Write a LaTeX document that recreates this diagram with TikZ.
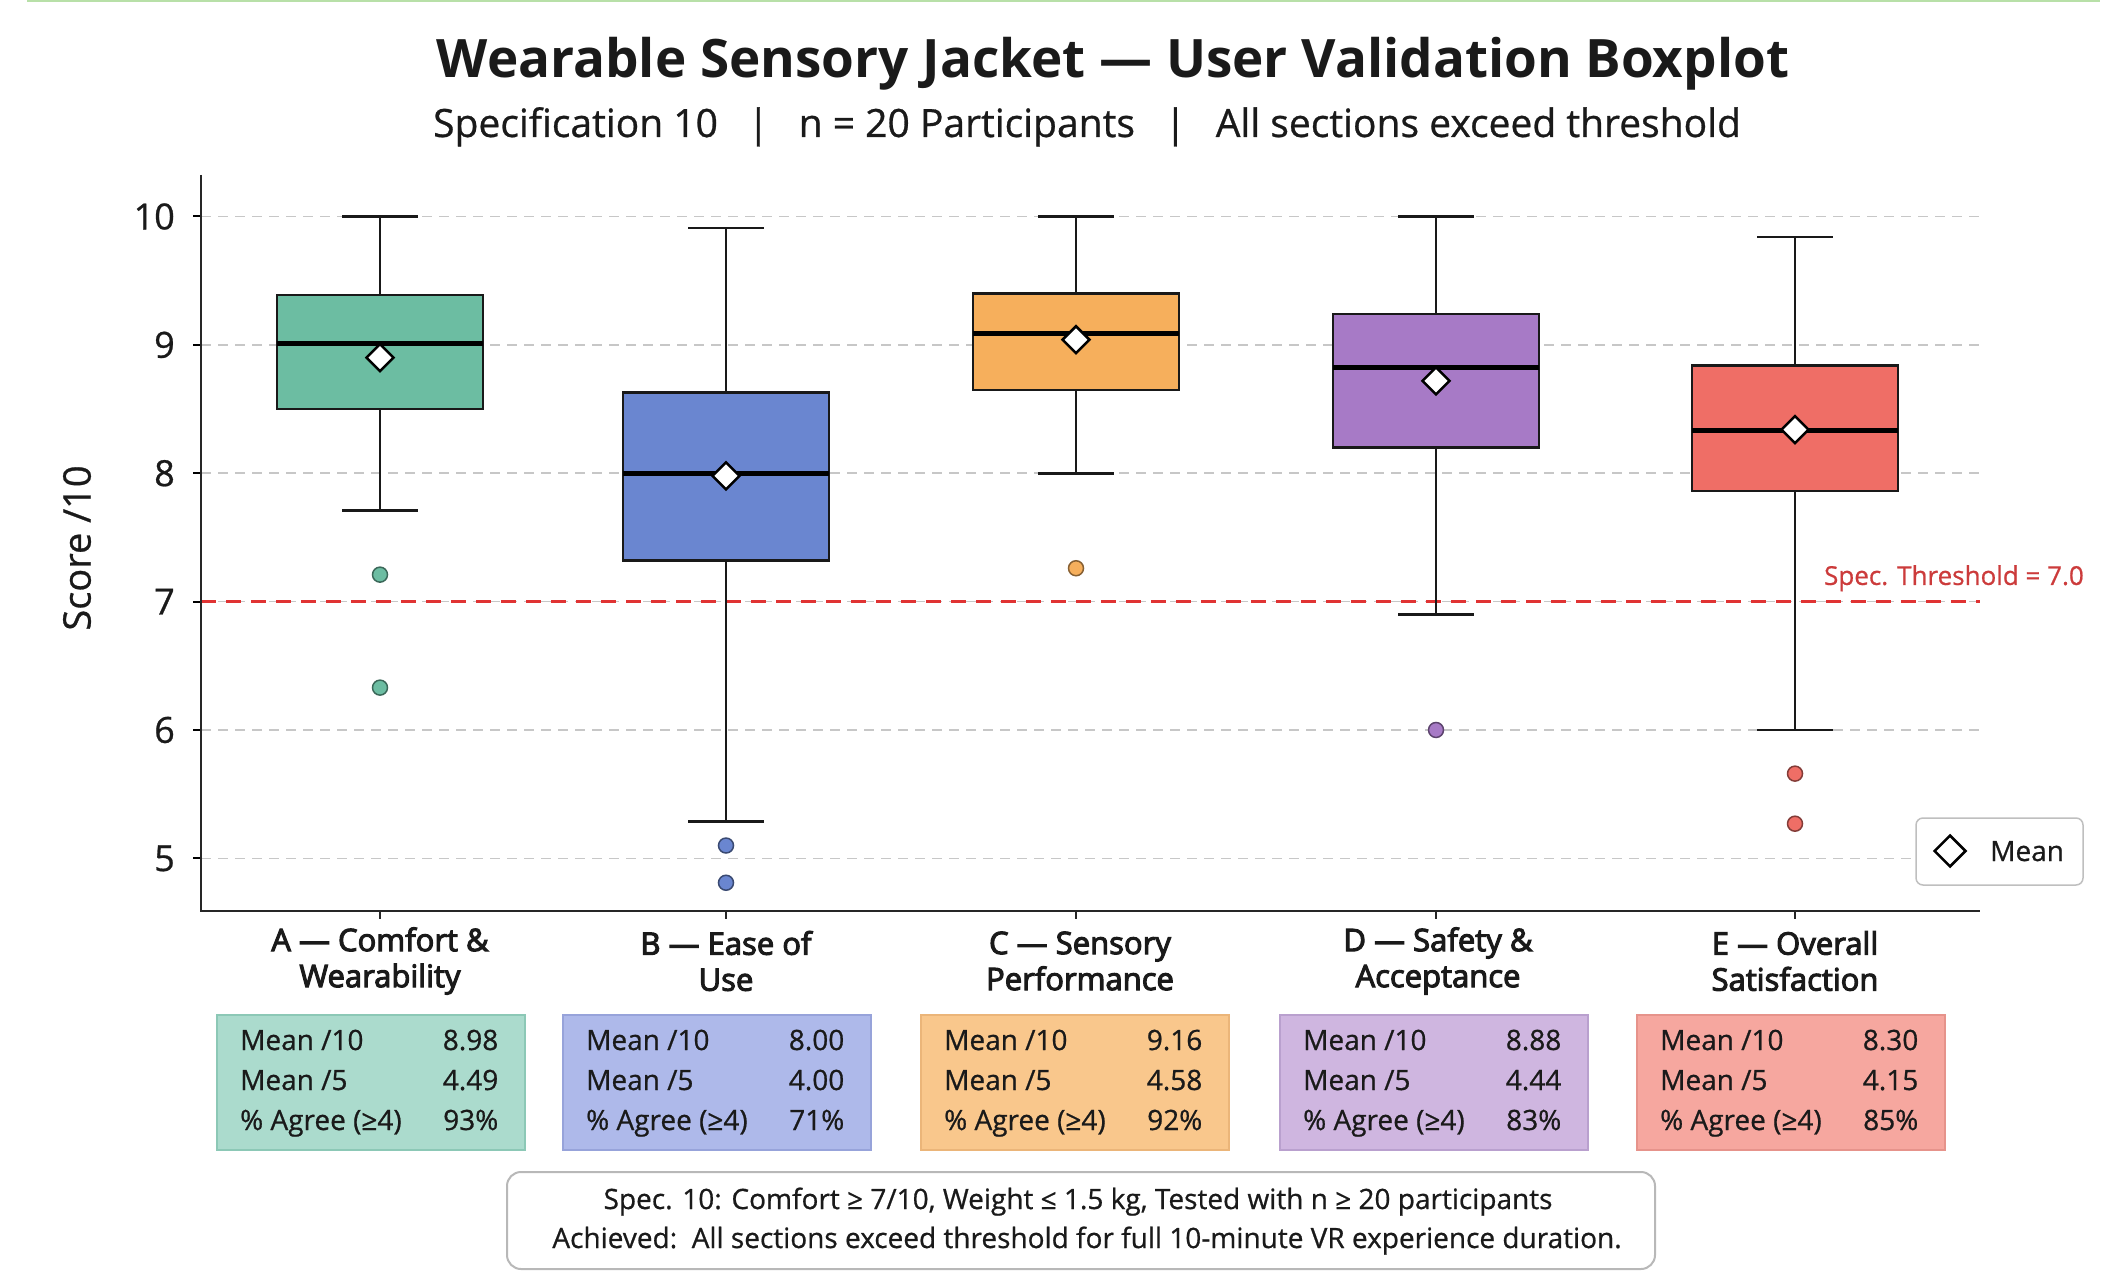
\documentclass[tikz,border=0pt]{standalone}
\usepackage{fontspec}
\setmainfont{Open Sans}
\newfontfamily\medfont[FakeBold=3.4]{Open Sans}
\newfontfamily\bodyfont[FakeBold=0.7]{Open Sans}
\usetikzlibrary{shapes.geometric}
\definecolor{cA}{HTML}{6CBDA2}\definecolor{tA}{HTML}{ABDBCD}\definecolor{bA}{HTML}{8CC8B6}
\definecolor{cB}{HTML}{6A86D0}\definecolor{tB}{HTML}{AEB9EA}\definecolor{bB}{HTML}{97A3DA}
\definecolor{cC}{HTML}{F6AF5C}\definecolor{tC}{HTML}{F9C78C}\definecolor{bC}{HTML}{EBB579}
\definecolor{cD}{HTML}{A77AC6}\definecolor{tD}{HTML}{CFB6E0}\definecolor{bD}{HTML}{B9A0CE}
\definecolor{cE}{HTML}{EF6E66}\definecolor{tE}{HTML}{F6A79F}\definecolor{bE}{HTML}{E6938B}
\definecolor{thrred}{HTML}{E03333}
\definecolor{thrtxt}{HTML}{CC3B3B}
\definecolor{txt}{HTML}{1A1A1A}
\definecolor{topgreen}{HTML}{B8E0A8}
\newcommand\bxplot[7]{% x, colour, wtop, q3, med, q1, wbot
  \draw[whisk] (#1,#3) -- (#1,#4);
  \draw[whisk] (#1,#6) -- (#1,#7);
  \draw[whisk] (#1-38,#3) -- (#1+38,#3);
  \draw[whisk] (#1-38,#7) -- (#1+38,#7);
  \draw[boxst,fill=#2] (#1-103,#6) rectangle (#1+103,#4);
  \draw[medst] (#1-103,#5) -- (#1+103,#5);
}
\newcommand\stattable[6]{% name, x-left, fill, border, v1, v2
  \node[tablebox,fill=#3,draw=#4,anchor=north west] (#1) at (#2,1014) {};
  \node[rowlab,anchor=base west] (#1l1) at ([xshift=24pt]#1.west |- 0,1050) {Mean /10};
  \node[rowlab,anchor=base west] (#1l2) at ([xshift=24pt]#1.west |- 0,1090) {Mean /5};
  \node[rowlab,anchor=base west] (#1l3) at ([xshift=24pt]#1.west |- 0,1130) {\% Agree (≥4)};
  \node[rowlab,anchor=base east] (#1v1) at ([xshift=-27pt]#1.east |- 0,1050) {#5};
  \node[rowlab,anchor=base east] (#1v2) at ([xshift=-27pt]#1.east |- 0,1090) {#6};
}
\begin{document}
\begin{tikzpicture}[x=1pt,y=-1pt,
  whisk/.style={line width=2.8pt,draw=black!90},
  boxst/.style={line width=2.5pt,draw=black!90},
  medst/.style={line width=5pt,draw=black},
  meanmk/.style={diamond,aspect=1,draw=black,fill=white,line width=2.5pt,inner sep=0pt,minimum size=28pt},
  outl/.style={circle,inner sep=0pt,minimum size=15pt,line width=1.5pt},
  gridln/.style={draw=black!22,line width=1.5pt,dash pattern=on 10pt off 7pt},
  thr/.style={draw=thrred,line width=3pt,dash pattern=on 15pt off 10pt},
  ticklab/.style={anchor=east,inner sep=0pt,font=\bodyfont\fontsize{36}{40}\selectfont,text=txt},
  catlab/.style={align=center,inner sep=0pt,font=\medfont\fontsize{31}{36}\selectfont,text=txt},
  tablebox/.style={minimum width=308pt,minimum height=135pt,inner sep=0pt,line width=1.5pt},
  rowlab/.style={inner sep=0pt,font=\bodyfont\fontsize{28}{32}\selectfont,text=txt},
  foottxt/.style={inner sep=0pt,anchor=base,font=\bodyfont\fontsize{28}{32}\selectfont,text=txt}
]
\useasboundingbox (0,0) rectangle (2115,1273);
\fill[white] (0,0) rectangle (2115,1273);
\draw[topgreen,line width=2.5pt] (27,1) -- (2100,1);

% titles
\node[anchor=base,inner sep=0pt,font=\bfseries\fontsize{53}{60}\selectfont,text=txt] (title) at (1113,78) {Wearable Sensory Jacket — User Validation Boxplot};
\node[anchor=base,inner sep=0pt,font=\bodyfont\fontsize{39}{44}\selectfont,text=txt] (subtitle) at (1087,137) {Specification 10\enspace\ |\enspace\ n = 20 Participants\enspace\ |\enspace\ All sections exceed threshold};

% plot area in score units
\begin{scope}[x=1pt,y=128.37pt,yshift=-1500.2pt]
  \foreach \s in {5,...,10}{
    \draw[gridln] (201,\s) -- (1980,\s);
    \draw[line width=2pt] (193,\s) -- (201,\s);
    \node[ticklab] (tick\s) at (175,\s) {\s};
  }
  \draw[thr] (201,7) -- (1980,7);
  \node[anchor=base east,inner sep=0pt,font=\bodyfont\fontsize{26}{30}\selectfont,text=thrtxt] (thrlab) at (2084,7.13) {Spec. Threshold = 7.0};

  \bxplot{380}{cA}{10}{9.39}{9.01}{8.50}{7.71}
  \bxplot{726}{cB}{9.91}{8.63}{8.00}{7.32}{5.29}
  \bxplot{1076}{cC}{10}{9.40}{9.09}{8.65}{8.00}
  \bxplot{1436}{cD}{10}{9.24}{8.82}{8.20}{6.90}
  \bxplot{1795}{cE}{9.84}{8.84}{8.33}{7.86}{6.00}

  \node[meanmk] (meanA) at (380,8.90) {};
  \node[meanmk] (meanB) at (726,7.98) {};
  \node[meanmk] (meanC) at (1076,9.04) {};
  \node[meanmk] (meanD) at (1436,8.72) {};
  \node[meanmk] (meanE) at (1795,8.34) {};

  \node[outl,fill=cA,draw=cA!55!black] (oA1) at (380,7.21) {};
  \node[outl,fill=cA,draw=cA!55!black] (oA2) at (380,6.33) {};
  \node[outl,fill=cB,draw=cB!55!black] (oB1) at (726,5.10) {};
  \node[outl,fill=cB,draw=cB!55!black] (oB2) at (726,4.81) {};
  \node[outl,fill=cC,draw=cC!55!black] (oC1) at (1076,7.26) {};
  \node[outl,fill=cD,draw=cD!55!black] (oD1) at (1436,6.00) {};
  \node[outl,fill=cE,draw=cE!55!black] (oE1) at (1795,5.66) {};
  \node[outl,fill=cE,draw=cE!55!black] (oE2) at (1795,5.27) {};
\end{scope}

% axes
\draw[line width=2.5pt,draw=black!85] (201,175) -- (201,911) -- (1980,911);
\foreach \xx in {380,726,1076,1436,1795}{\draw[line width=2pt,draw=black!85] (\xx,911) -- (\xx,919);}
\node[rotate=90,inner sep=0pt,font=\bodyfont\fontsize{38}{42}\selectfont,text=txt] (ylab) at (77,548) {Score /10};

% legend
\node[draw=black!25,line width=1.5pt,rounded corners=7pt,fill=white,minimum width=167pt,minimum height=67pt,inner sep=0pt] (legend) at (1999.5,851.5) {};
\node[meanmk,minimum size=32pt] (legdia) at (1950,851) {};
\node[anchor=base west,inner sep=0pt,font=\bodyfont\fontsize{28}{32}\selectfont,text=txt] (legtxt) at (1990,861) {Mean};

% category labels
\node[catlab] (catA) at (380,961) {A — Comfort \&\\Wearability};
\node[catlab] (catB) at (726,961) {B — Ease of\\Use};
\node[catlab] (catC) at (1080,961) {C — Sensory\\Performance};
\node[catlab] (catD) at (1438,961) {D — Safety \&\\Acceptance};
\node[catlab] (catE) at (1795,961) {E — Overall\\Satisfaction};

% stat tables
\stattable{tabA}{216}{tA}{bA}{8.98}{4.49}
\node[rowlab,anchor=base east] (tabAv3) at ([xshift=-27pt]tabA.east |- 0,1130) {93\%};
\stattable{tabB}{562}{tB}{bB}{8.00}{4.00}
\node[rowlab,anchor=base east] (tabBv3) at ([xshift=-27pt]tabB.east |- 0,1130) {71\%};
\stattable{tabC}{920}{tC}{bC}{9.16}{4.58}
\node[rowlab,anchor=base east] (tabCv3) at ([xshift=-27pt]tabC.east |- 0,1130) {92\%};
\stattable{tabD}{1279}{tD}{bD}{8.88}{4.44}
\node[rowlab,anchor=base east] (tabDv3) at ([xshift=-27pt]tabD.east |- 0,1130) {83\%};
\stattable{tabE}{1636}{tE}{bE}{8.30}{4.15}
\node[rowlab,anchor=base east] (tabEv3) at ([xshift=-27pt]tabE.east |- 0,1130) {85\%};

% footer
\node[draw=black!28,line width=2pt,rounded corners=14pt,minimum width=1148pt,minimum height=97pt,inner sep=0pt,anchor=north west] (footer) at (506,1171) {};
\node[foottxt] (foot1) at (1078,1209) {Spec. 10: Comfort ≥ 7/10, Weight ≤ 1.5 kg, Tested with n ≥ 20 participants};
\node[foottxt] (foot2) at (1087,1248) {Achieved:\ \ All sections exceed threshold for full 10-minute VR experience duration.};
\end{tikzpicture}
\end{document}
